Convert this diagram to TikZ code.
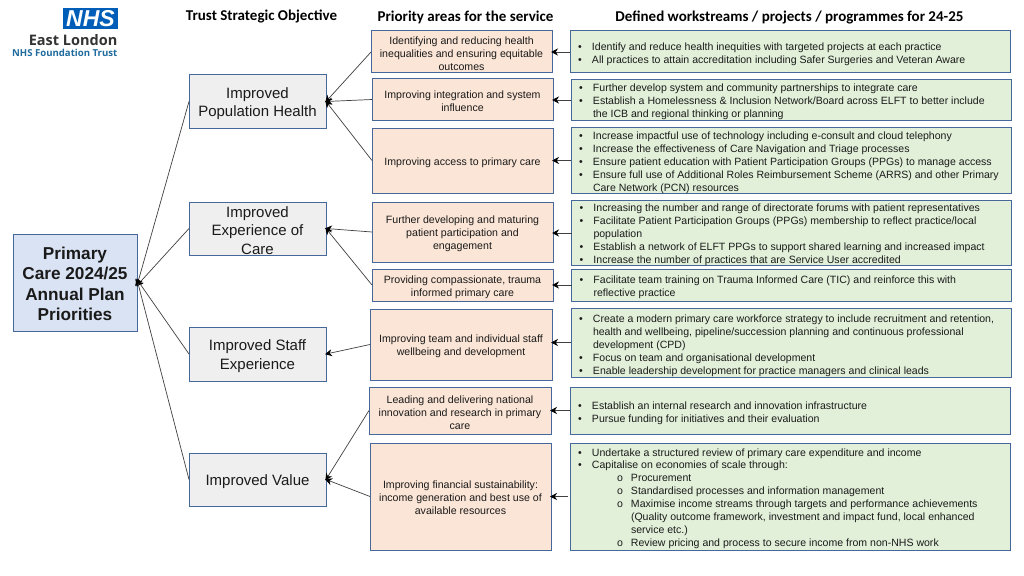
\documentclass[tikz,border=0pt]{standalone}
\usepackage{fontspec}
\setmainfont{Liberation Sans}
\newfontfamily\headfont{Carlito}
\newfontfamily\logofont{Open Sans}
\usetikzlibrary{arrows.meta}
\definecolor{edgeblue}{HTML}{46679A}
\definecolor{mainfill}{HTML}{DAE3F3}
\definecolor{objfill}{HTML}{EFEFEF}
\definecolor{priofill}{HTML}{FBE5D6}
\definecolor{greenfill}{HTML}{E2F0D9}
\definecolor{nhsblue}{HTML}{005EB8}
\definecolor{logoteal}{HTML}{1F6B9E}
\definecolor{inktext}{HTML}{1A1A1A}
\newcommand{\wbul}[1]{\makebox[14pt][l]{•}#1}
\newcommand{\wcon}[1]{\hspace*{14pt}#1}
\newcommand{\wsub}[1]{\hspace*{39pt}\makebox[14pt][l]{o}#1}
\newcommand{\wsubc}[1]{\hspace*{53pt}#1}
% centred / left text block, pushed down by half of the first argument
\newcommand{\ctext}[3]{\parbox{#1pt}{\vspace*{#2pt}\centering #3}}
\newcommand{\ltext}[2]{\parbox{424pt}{\vspace*{#1pt}\raggedright #2}}
\tikzset{
  box/.style={draw=edgeblue,line width=1pt,inner sep=0pt,outer sep=0pt,text=inktext},
  mainbox/.style={box,fill=mainfill,font=\fontsize{17.2}{20.5}\selectfont\bfseries},
  objbox/.style={box,fill=objfill,font=\fontsize{15}{18.5}\selectfont},
  priobox/.style={box,fill=priofill,font=\fontsize{10.6}{13.2}\selectfont},
  greenbox/.style={box,fill=greenfill,inner xsep=8pt,font=\fontsize{10.55}{12.9}\selectfont},
  head/.style={font=\headfont\fontsize{15}{17}\selectfont\bfseries,text=black,inner sep=0pt},
  link/.style={draw=black!75,line width=0.7pt,-{Stealth[length=7pt,width=7pt,color=black]},shorten >=-1pt},
}
\begin{document}
\begin{tikzpicture}[x=1pt,y=-1pt]
\useasboundingbox[fill=white] (0,0) rectangle (1024,575);

% logo
\node[fill=nhsblue,text=white,minimum width=55pt,minimum height=21pt,inner sep=0pt,font=\fontsize{23}{23}\selectfont\bfseries\itshape] (nhs) at (90.5,18.5) {NHS};
\node[anchor=east,inner sep=0pt,text=black!80,font=\logofont\fontsize{14.5}{16}\selectfont\bfseries] (eastlondon) at (117.5,40) {East London};
\node[anchor=east,inner sep=0pt,text=logoteal,font=\logofont\fontsize{9.6}{11}\selectfont\bfseries] (foundation) at (117.5,53) {NHS Foundation Trust};

% headers
\node[head] (h1) at (261.5,16) {Trust Strategic Objective};
\node[head] (h2) at (465.5,17) {Priority areas for the service};
\node[head] (h3) at (789.5,17) {Defined workstreams / projects / programmes for 24-25};

% main
\node[mainbox,minimum width=124pt,minimum height=97pt] (main) at (75,282.5) {\ctext{122}{3}{Primary\\Care 2024/25\\Annual Plan\\Priorities}};

% objectives
\node[objbox,minimum width=137pt,minimum height=53pt] (o1) at (257.5,101.5) {\ctext{135}{4}{Improved\\Population Health}};
\node[objbox,minimum width=137pt,minimum height=53pt] (o2) at (257.5,228.5) {\ctext{135}{4}{Improved\\Experience of\\Care}};
\node[objbox,minimum width=137pt,minimum height=54pt] (o3) at (257.5,354) {\ctext{135}{4}{Improved Staff\\Experience}};
\node[objbox,minimum width=137pt,minimum height=53pt] (o4) at (257.5,479.5) {\ctext{135}{4}{Improved Value}};

% priorities
\node[priobox,minimum width=181pt,minimum height=42pt] (p1) at (461.5,52) {\ctext{179}{4}{Identifying and reducing health\\inequalities and ensuring equitable\\outcomes}};
\node[priobox,minimum width=181pt,minimum height=41pt] (p2) at (462.5,99.5) {\ctext{179}{4}{Improving integration and system\\influence}};
\node[priobox,minimum width=181pt,minimum height=65pt] (p3) at (462.5,160.5) {\ctext{179}{4}{Improving access to primary care}};
\node[priobox,minimum width=181pt,minimum height=60pt] (p4) at (462.5,232) {\ctext{179}{4}{Further developing and maturing\\patient participation and\\engagement}};
\node[priobox,minimum width=181pt,minimum height=32pt] (p5) at (462.5,285) {\ctext{179}{4}{Providing compassionate, trauma\\informed primary care}};
\node[priobox,minimum width=182pt,minimum height=71pt] (p6) at (461,344.5) {\ctext{179}{4}{Improving team and individual staff\\wellbeing and development}};
\node[priobox,minimum width=182pt,minimum height=47pt] (p7) at (460,410.5) {\ctext{179}{4}{Leading and delivering national\\innovation and research in primary\\care}};
\node[priobox,minimum width=181pt,minimum height=107pt] (p8) at (460.5,496.5) {\ctext{179}{2}{Improving financial sustainability:\\income generation and best use of\\available resources}};

% workstreams
\node[greenbox,minimum height=42pt] (g1) at (790,52) {\ltext{4}{\wbul{Identify and reduce health inequities with targeted projects at each practice}\\
\wbul{All practices to attain accreditation including Safer Surgeries and Veteran Aware}}};
\node[greenbox,minimum height=41pt] (g2) at (791,100) {\ltext{4}{\wbul{Further develop system and community partnerships to integrate care}\\
\wbul{Establish a Homelessness \& Inclusion Network/Board across ELFT to better include}\\
\wcon{the ICB and regional thinking or planning}}};
\node[greenbox,minimum height=65pt] (g3) at (791,160.5) {\ltext{4}{\wbul{Increase impactful use of technology including e-consult and cloud telephony}\\
\wbul{Increase the effectiveness of Care Navigation and Triage processes}\\
\wbul{Ensure patient education with Patient Participation Groups (PPGs) to manage access}\\
\wbul{Ensure full use of Additional Roles Reimbursement Scheme (ARRS) and other Primary}\\
\wcon{Care Network (PCN) resources}}};
\node[greenbox,minimum height=60pt] (g4) at (791.5,233) {\ltext{4}{\wbul{Increasing the number and range of directorate forums with patient representatives}\\
\wbul{Facilitate Patient Participation Groups (PPGs) membership to reflect practice/local}\\
\wcon{population}\\
\wbul{Establish a network of ELFT PPGs to support shared learning and increased impact}\\
\wbul{Increase the number of practices that are Service User accredited}}};
\node[greenbox,minimum height=32pt] (g5) at (791.5,285) {\ltext{4}{\wbul{Facilitate team training on Trauma Informed Care (TIC) and reinforce this with}\\
\wcon{reflective practice}}};
\node[greenbox,minimum height=69pt] (g6) at (791,342.5) {\ltext{6}{\wbul{Create a modern primary care workforce strategy to include recruitment and retention,}\\
\wcon{health and wellbeing, pipeline/succession planning and continuous professional}\\
\wcon{development (CPD)}\\
\wbul{Focus on team and organisational development}\\
\wbul{Enable leadership development for practice managers and clinical leads}}};
\node[greenbox,minimum height=47pt] (g7) at (790,410.5) {\ltext{6}{\wbul{Establish an internal research and innovation infrastructure}\\
\wbul{Pursue funding for initiatives and their evaluation}}};
\node[greenbox,minimum height=107pt] (g8) at (790,496.5) {\ltext{4}{\wbul{Undertake a structured review of primary care expenditure and income}\\
\wbul{Capitalise on economies of scale through:}\\
\wsub{Procurement}\\
\wsub{Standardised processes and information management}\\
\wsub{Maximise income streams through targets and performance achievements}\\
\wsubc{(Quality outcome framework, investment and impact fund, local enhanced}\\
\wsubc{service etc.)}\\
\wsub{Review pricing and process to secure income from non-NHS work}}};

% connectors
\foreach \g/\p in {g1/p1,g2/p2,g3/p3,g4/p4,g5/p5,g6/p6,g7/p7}
  \draw[link] (\g.west) -- (\p.east |- \g.west);
\draw[link,shorten <=2pt] (g8.west) -- (p8.east |- g8.west);
\foreach \p/\o in {p1/o1,p2/o1,p3/o1,p4/o2,p5/o2,p6/o3,p7/o4,p8/o4}
  \draw[link] (\p.west) -- (\o.east);
\draw[link] (o1.west) -- ([yshift=-3pt]main.east);
\draw[link] (o2.west) -- ([yshift=-3pt]main.east);
\draw[link] (o3.west) -- ([yshift=3pt]main.east);
\draw[link] (o4.west) -- ([yshift=3pt]main.east);
\end{tikzpicture}
\end{document}
